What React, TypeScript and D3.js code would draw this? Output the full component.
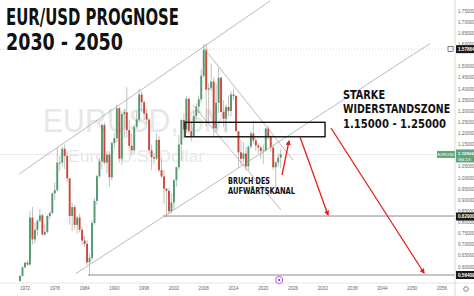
import React, { useLayoutEffect, useRef, useState } from 'react';
import * as d3 from 'd3';

const W = 474;
const H = 296;

// Semi-annual EUR/USD candles, first period 1971 H1
const startYear = 1971;
const firstOpen = 0.537;
const closes = [
  0.560, 0.598, 0.619, 0.611, 0.822, 0.724, 0.767, 0.808, 0.832, 0.746,
  0.758, 0.829, 0.843, 0.931, 0.945, 1.069, 1.069, 1.131, 1.099, 0.998,
  0.829, 0.869, 0.789, 0.822, 0.767, 0.719, 0.704, 0.621, 0.641, 0.798,
  0.897, 1.008, 1.075, 1.238, 1.069, 1.105, 1.003, 1.157, 1.178, 1.313,
  1.087, 1.287, 1.295, 1.215, 1.144, 1.124, 1.230, 1.262, 1.375, 1.340,
  1.290, 1.262, 1.124, 1.093, 1.087, 1.171, 1.035, 1.007, 0.952, 0.942,
  0.850, 0.890, 0.990, 1.048, 1.150, 1.260, 1.218, 1.356, 1.210, 1.184,
  1.279, 1.320, 1.353, 1.459, 1.575, 1.397, 1.403, 1.433, 1.223, 1.338,
  1.450, 1.296, 1.266, 1.319, 1.301, 1.375, 1.369, 1.210, 1.115, 1.086,
  1.110, 1.052, 1.141, 1.200, 1.168, 1.146, 1.137, 1.121, 1.123, 1.222,
  1.186, 1.137, 1.048, 1.070, 1.091, 1.106,
];
const highs = [
  0.565, 0.605, 0.625, 0.630, 0.850, 0.870, 0.800, 0.815, 0.860, 0.840,
  0.790, 0.835, 0.850, 0.935, 0.980, 1.137, 1.100, 1.140, 1.150, 1.120,
  1.000, 0.890, 0.880, 0.830, 0.840, 0.780, 0.740, 0.720, 0.660, 0.810,
  0.910, 1.015, 1.090, 1.245, 1.250, 1.120, 1.120, 1.165, 1.200, 1.330,
  1.320, 1.300, 1.310, 1.407, 1.260, 1.200, 1.240, 1.300, 1.400, 1.390,
  1.350, 1.310, 1.270, 1.150, 1.110, 1.200, 1.190, 1.090, 1.035, 0.955,
  0.955, 0.930, 0.995, 1.050, 1.193, 1.265, 1.290, 1.367, 1.360, 1.250,
  1.300, 1.335, 1.370, 1.490, 1.602, 1.604, 1.425, 1.514, 1.450, 1.425,
  1.494, 1.455, 1.349, 1.330, 1.371, 1.389, 1.399, 1.370, 1.210, 1.171,
  1.162, 1.137, 1.145, 1.210, 1.256, 1.181, 1.157, 1.142, 1.150, 1.225,
  1.235, 1.191, 1.150, 1.074, 1.110, 1.128,
];
const lows = [
  0.535, 0.558, 0.595, 0.605, 0.605, 0.700, 0.705, 0.740, 0.800, 0.740,
  0.740, 0.750, 0.815, 0.835, 0.900, 0.940, 1.030, 1.050, 1.040, 0.980,
  0.790, 0.761, 0.770, 0.750, 0.755, 0.700, 0.690, 0.610, 0.564, 0.630,
  0.790, 0.880, 1.000, 1.040, 1.060, 1.020, 0.959, 0.990, 1.130, 1.160,
  1.070, 1.060, 1.180, 1.180, 1.130, 1.100, 1.110, 1.220, 1.250, 1.300,
  1.260, 1.240, 1.110, 1.035, 1.060, 1.080, 1.025, 1.000, 0.885, 0.823,
  0.836, 0.840, 0.860, 0.960, 1.035, 1.077, 1.176, 1.200, 1.200, 1.164,
  1.183, 1.250, 1.290, 1.337, 1.450, 1.233, 1.253, 1.390, 1.188, 1.210,
  1.290, 1.295, 1.228, 1.205, 1.275, 1.276, 1.350, 1.210, 1.046, 1.057,
  1.071, 1.035, 1.034, 1.131, 1.151, 1.122, 1.110, 1.088, 1.064, 1.119,
  1.170, 1.119, 1.035, 0.953, 1.048, 1.045,
];

const priceTicks = [1.75, 1.70, 1.65, 1.60, 1.50, 1.45, 1.40, 1.35, 1.30, 1.25, 1.20, 1.15, 1.05, 1.00, 0.95, 0.90, 0.85, 0.80, 0.75, 0.70, 0.65, 0.60];
const yearTicks = [1972, 1978, 1984, 1990, 1996, 2002, 2008, 2014, 2020, 2026, 2032, 2038, 2044, 2050, 2056];

const lastPrice = 1.10566;
const highMark = 1.57864;
const target1 = 0.829;
const target2 = 0.56409;

// Trend lines [year1, price1, year2, price2]
const grayLines = [
  [1970.79, 1.0177, 2021.36, 1.795],
  [1982.27, 0.5708, 2053.59, 1.604],
  [2007.86, 1.588, 2025.99, 1.0807],
  [2005.84, 1.3277, 2023.57, 0.856],
];
const zoneBox = [2004.23, 1.25, 2032.44, 1.185];
const targetStarts = [1999.8, 1984.69];
const redArrows = [
  [2023.77, 1.0133, 2025.18, 1.166],
  [2027.4, 1.184, 2033.04, 0.8336],
  [2033.64, 1.2244, 2052.38, 0.573],
];

const UP = '#52996f';
const DOWN = '#cf4638';
const WICK = '#959595';
const COND = "'DejaVu Sans Condensed', 'DejaVu Sans', sans-serif";
const SANS = "'Liberation Sans', Arial, sans-serif";

type FitProps = {
  x: number;
  y: number;
  width: number;
  size: number;
  family: string;
  fill: string;
  bold?: boolean;
  children: string;
};

function FitText({ x, y, width, size, family, fill, bold, children }: FitProps) {
  const ref = useRef<SVGTextElement>(null);
  const [s, setS] = useState(0.8);
  useLayoutEffect(() => {
    const measure = () => {
      if (ref.current) {
        const w = ref.current.getComputedTextLength();
        if (w > 0) setS(width / w);
      }
    };
    measure();
    if ((document as any).fonts && (document as any).fonts.ready) {
      (document as any).fonts.ready.then(measure);
    }
  }, [width, children]);
  return (
    <text
      ref={ref}
      transform={`translate(${x},${y}) scale(${s},1)`}
      fontFamily={family}
      fontStretch="condensed"
      fontWeight={bold ? 'bold' : 'normal'}
      fontSize={size}
      fill={fill}
    >
      {children}
    </text>
  );
}

export default function App() {
  const x = d3.scaleLinear().domain([1972, 2056]).range([25, 442]);
  const y = d3.scaleLinear().domain([1.75, 0.6]).range([11, 267]);
  const axisX = 455;
  const axisY = 283;
  const opens = [firstOpen, ...closes.slice(0, -1)];
  const candles = closes.map((c, i) => ({
    t: startYear + i * 0.5,
    o: opens[i],
    h: highs[i],
    l: lows[i],
    c,
  }));
  const bw = 1.9;
  const fmt = d3.format('.5f');

  return (
    <svg width={W} height={H} style={{ position: 'absolute', left: 0, top: 0, background: '#fff' }}>
      <defs>
        <clipPath id="plot">
          <rect x={0} y={0} width={axisX} height={axisY} />
        </clipPath>
        <marker id="ah" viewBox="0 0 10 10" refX="8" refY="5" markerWidth="4" markerHeight="4" orient="auto">
          <path d="M0,0 L10,5 L0,10 z" fill="#e3211c" />
        </marker>
      </defs>
      <rect x={0} y={0} width={W} height={H} fill="#fff" />

      {/* watermark */}
      <FitText x={43} y={132} width={186} size={33} family={SANS} fill="#e7e7e7">EURUSD, 6M</FitText>
      <FitText x={68} y={162} width={136} size={16} family={SANS} fill="#e7e7e7">Euro / U.S. Dollar</FitText>

      <g clipPath="url(#plot)">
        {/* price lines */}
        <line x1={0} x2={axisX} y1={y(lastPrice)} y2={y(lastPrice)} stroke="#e4e4e4" strokeWidth={0.8} />
        <line x1={0} x2={axisX} y1={y(highMark)} y2={y(highMark)} stroke="#c8c8c8" strokeWidth={0.8} strokeDasharray="1,2" />

        {/* candles */}
        {candles.map((d, i) => {
          const cx = x(d.t);
          const up = d.c >= d.o;
          const top = y(Math.max(d.o, d.c));
          const bot = y(Math.min(d.o, d.c));
          return (
            <g key={i}>
              <line x1={cx} x2={cx} y1={y(d.h)} y2={y(d.l)} stroke={WICK} strokeWidth={0.6} />
              <rect x={cx - bw / 2} y={top} width={bw} height={Math.max(0.8, bot - top)} fill={up ? UP : DOWN} />
            </g>
          );
        })}

        {/* target lines */}
        <line x1={x(targetStarts[0])} x2={axisX} y1={y(target1)} y2={y(target1)} stroke="#8c8c8c" strokeWidth={1} />
        <line x1={x(targetStarts[1])} x2={axisX} y1={y(target2)} y2={y(target2)} stroke="#8c8c8c" strokeWidth={1} />

        {/* channel / trend lines */}
        {grayLines.map((l, i) => (
          <line key={i} x1={x(l[0])} y1={y(l[1])} x2={x(l[2])} y2={y(l[3])} stroke="#a3a3a3" strokeWidth={0.75} />
        ))}

        {/* resistance zone */}
        <rect x={x(zoneBox[0])} y={y(zoneBox[1])} width={x(zoneBox[2]) - x(zoneBox[0])} height={y(zoneBox[3]) - y(zoneBox[1])} fill="none" stroke="#111" strokeWidth={1.4} />

        {/* red arrows */}
        {redArrows.map((a, i) => (
          <line key={i} x1={x(a[0])} y1={y(a[1])} x2={x(a[2])} y2={y(a[3])} stroke="#e3211c" strokeWidth={1.3} markerEnd="url(#ah)" />
        ))}
      </g>

      {/* axes separators */}
      <line x1={axisX} x2={axisX} y1={0} y2={H} stroke="#d0d0d0" strokeWidth={0.8} />
      <line x1={0} x2={W} y1={axisY} y2={axisY} stroke="#e0e0e0" strokeWidth={0.8} />

      {/* price ticks */}
      {priceTicks.map((p) => (
        <text key={p} x={458} y={y(p) + 1.6} fontFamily={SANS} fontSize={4.6} fill="#666">{fmt(p)}</text>
      ))}

      {/* year ticks */}
      {yearTicks.map((t) => (
        <text key={t} x={x(t)} y={289.5} fontFamily={SANS} fontSize={4.6} fill="#666" textAnchor="middle">{t}</text>
      ))}

      {/* price tags */}
      <rect x={448} y={y(highMark) - 2.5} width={5} height={5} fill="none" stroke="#333" strokeWidth={0.6} />
      <rect x={456} y={y(highMark) - 4} width={18} height={8} fill="#1a1a1a" />
      <text x={458} y={y(highMark) + 1.6} fontFamily={SANS} fontSize={4.6} fill="#fff" fontWeight="bold">{fmt(highMark)}</text>

      <rect x={437} y={y(lastPrice) - 3.5} width={18} height={7} fill="#5fa57c" />
      <text x={446} y={y(lastPrice) + 1.3} fontFamily={SANS} fontSize={4} fill="#fff" textAnchor="middle">EURUSD</text>
      <rect x={456} y={y(lastPrice) - 5} width={18} height={13} fill="#5fa57c" />
      <text x={458} y={y(lastPrice) + 0.6} fontFamily={SANS} fontSize={4.4} fill="#fff" fontWeight="bold">{fmt(lastPrice)}</text>
      <text x={458} y={y(lastPrice) + 6.4} fontFamily={SANS} fontSize={3.6} fill="#fff">38d 22h</text>

      <rect x={456} y={y(target1) - 3.5} width={18} height={8} fill="#1a1a1a" />
      <text x={458} y={y(target1) + 2.1} fontFamily={SANS} fontSize={4.6} fill="#fff" fontWeight="bold">{fmt(target1)}</text>
      <rect x={456} y={y(target2) - 4} width={18} height={8} fill="#1a1a1a" />
      <text x={458} y={y(target2) + 1.6} fontFamily={SANS} fontSize={4.6} fill="#fff" fontWeight="bold">{fmt(target2)}</text>

      {/* event marker and gear */}
      <circle cx={x(2023.2)} cy={280} r={3.6} fill="#fff" stroke="#a04cc8" strokeWidth={0.9} />
      <circle cx={x(2023.2)} cy={280} r={1.2} fill="#a04cc8" />
      <circle cx={466} cy={289} r={2.3} fill="none" stroke="#666" strokeWidth={0.8} />

      {/* title */}
      <FitText x={6} y={25} width={173} size={22.5} family={COND} fill="#111" bold>EUR/USD PROGNOSE</FitText>
      <FitText x={6} y={50} width={117} size={22.5} family={COND} fill="#111" bold>2030 - 2050</FitText>

      {/* annotations */}
      <FitText x={343} y={98.5} width={42} size={13} family={COND} fill="#111" bold>STARKE</FitText>
      <FitText x={343} y={113} width={107} size={13} family={COND} fill="#111" bold>WIDERSTANDSZONE</FitText>
      <FitText x={343} y={127.5} width={103} size={13} family={COND} fill="#111" bold>1.15000 - 1.25000</FitText>
      <FitText x={228} y={184} width={42} size={9.5} family={COND} fill="#111" bold>BRUCH DES</FitText>
      <FitText x={228} y={194.3} width={67} size={9.5} family={COND} fill="#111" bold>AUFWÄRTSKANAL</FitText>
    </svg>
  );
}
